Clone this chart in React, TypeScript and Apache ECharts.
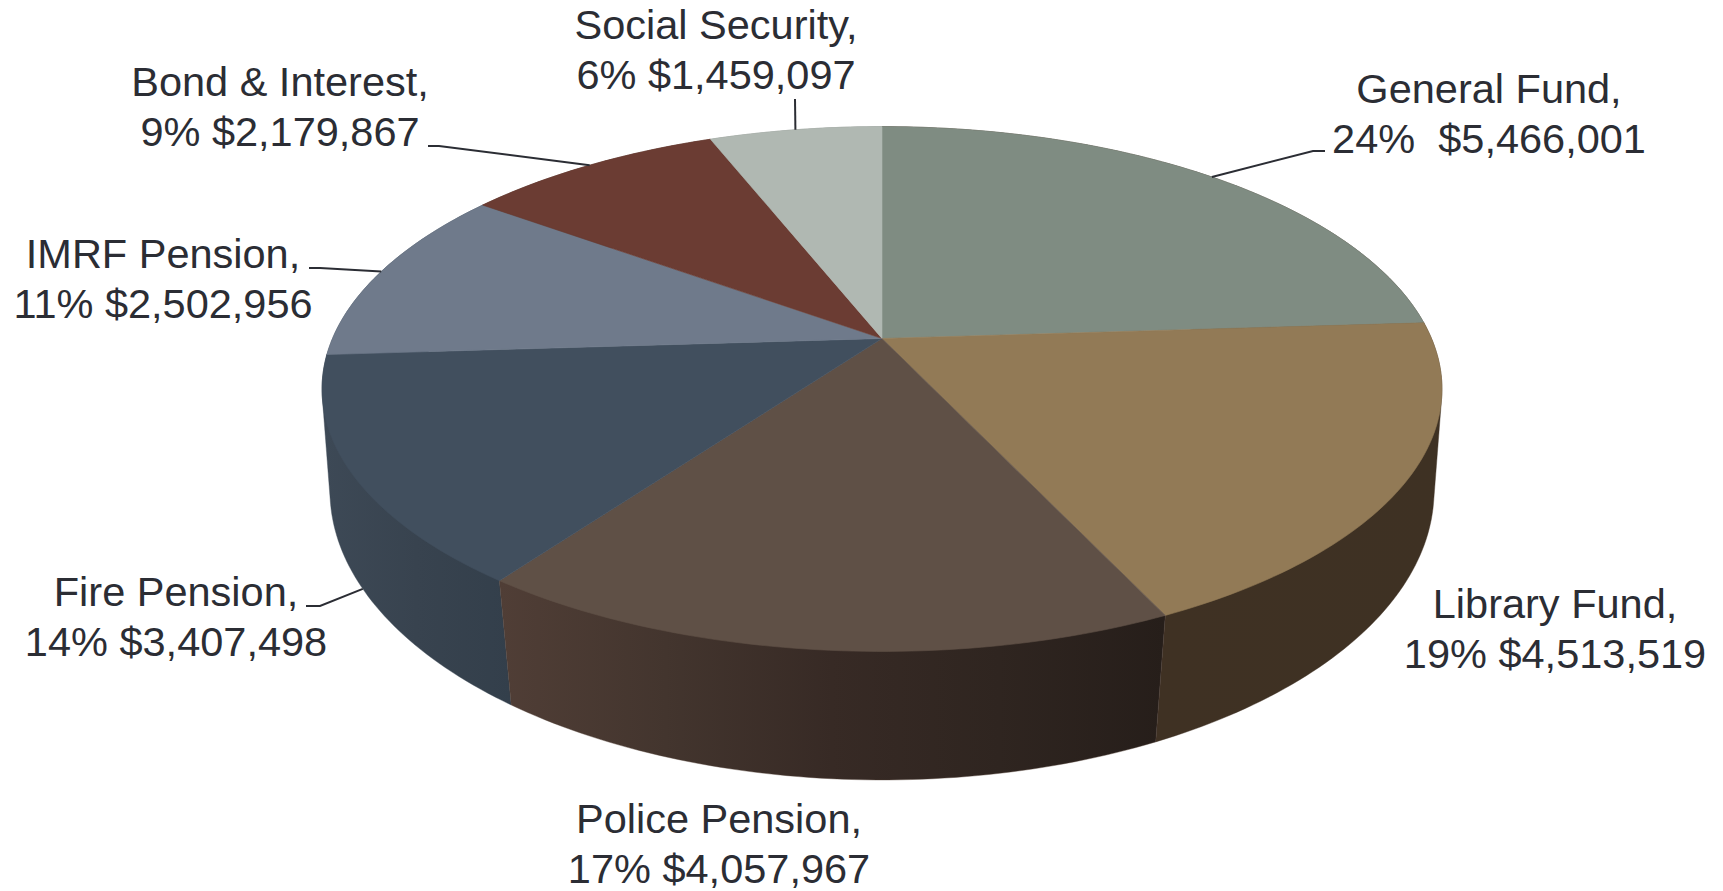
import { useEffect, useRef } from "react";
import * as echarts from "echarts";

// Fund shares and amounts, clockwise from twelve o'clock.
const funds = ["General Fund", "Library Fund", "Police Pension", "Fire Pension", "IMRF Pension", "Bond & Interest", "Social Security"];
const shares = [24, 19, 17, 14, 11, 9, 6];
const amounts = ["$5,466,001", "$4,513,519", "$4,057,967", "$3,407,498", "$2,502,956", "$2,179,867", "$1,459,097"];
const shareGaps = ["  ", " ", " ", " ", " ", " ", " "];

const topColors = ["#7f8c82", "#927a56", "#5f5046", "#414f5e", "#6f7a8b", "#6b3c33", "#b0b8b2"];
const wallStops = [
  ["#3e3123", "#3e3123"],
  ["#3f3123", "#3e3123"],
  ["#503e36", "#43352e", "#372a25", "#2f2520", "#261e1a"],
  ["#3d4956", "#38434f", "#333f4b"],
  ["#3d4956", "#38434f"],
  ["#4a2a24", "#4a2a24"],
  ["#7c827e", "#7c827e"],
];

// Projection of the disc: the near edge is drawn larger than the far edge.
const topRim = { cx: 882, cy: 338.5, rx: 549.5, ry: 252.7, k: 0.1925 };
const baseRim = { cx: 882, cy: 441.4, rx: 544, ry: 281, k: 0.17 };

// Label placement: centre of each two-line block.
const labelCentres = [
  [1489, 113], [1555, 628], [719, 843], [176, 616], [163, 278], [280, 106], [716, 49],
];
// Leader lines: where the line leaves the text, then its bend. Library and Police have none.
const leaderStarts = [[1325, 151], null, null, [306, 606], [309, 268], [428, 146], [795, 99]];
const leaderBends = [[1313, 151], null, null, [320, 606], [320, 268], [439, 146], [795, 99]];
const leaderOnBase = [false, false, false, true, false, false, false];

const startShare = (i: number) => shares.slice(0, i).reduce((a, b) => a + b, 0);
const toAngle = (share: number) => (share / 100) * Math.PI * 2;

function project(rim: typeof topRim, angle: number) {
  const w = 1 + rim.k * Math.cos(angle);
  return [rim.cx + (rim.rx * Math.sin(angle)) / w, rim.cy - (rim.ry * Math.cos(angle)) / w];
}

function arc(rim: typeof topRim, from: number, to: number) {
  const steps = Math.max(2, Math.ceil(Math.abs(to - from) / (Math.PI / 180)));
  const pts: number[][] = [];
  for (let s = 0; s <= steps; s++) pts.push(project(rim, from + ((to - from) * s) / steps));
  return pts;
}

// The side of the drum is the convex outline of its two rims, so its silhouette
// runs straight from one rim to the other. The top faces cover whatever lies above the rim.
function convexHull(points: number[][]) {
  const sorted = [...points].sort((a, b) => a[0] - b[0] || a[1] - b[1]);
  const cross = (o: number[], a: number[], b: number[]) =>
    (a[0] - o[0]) * (b[1] - o[1]) - (a[1] - o[1]) * (b[0] - o[0]);
  const chain = (list: number[][]) => {
    const out: number[][] = [];
    for (const p of list) {
      while (out.length >= 2 && cross(out[out.length - 2], out[out.length - 1], p) <= 0) out.pop();
      out.push(p);
    }
    out.pop();
    return out;
  };
  return [...chain(sorted), ...chain([...sorted].reverse())];
}

function renderWall(params: any, api: any) {
  const i = params.dataIndex;
  const from = toAngle(startShare(i));
  const to = from + toAngle(api.value(0));
  const mid = (from + to) / 2;
  const stops = wallStops[i].map((color, n, all) => ({ offset: n / (all.length - 1), color }));
  const fill = new echarts.graphic.LinearGradient(0, 0, 1, 0, stops);
  return {
    type: "polygon",
    z2: Math.round(100 - Math.cos(mid) * 100),
    shape: { points: convexHull([...arc(topRim, from, to), ...arc(baseRim, to, from)]) },
    style: { fill, stroke: wallStops[i][0], lineWidth: 0.4 },
  };
}

function renderTop(params: any, api: any) {
  const i = params.dataIndex;
  const from = toAngle(startShare(i));
  const to = from + toAngle(api.value(0));
  return {
    type: "polygon",
    shape: { points: [[topRim.cx, topRim.cy], ...arc(topRim, from, to)] },
    style: { fill: topColors[i], stroke: topColors[i], lineWidth: 0.6 },
  };
}

function renderLabel(params: any, api: any) {
  const i = params.dataIndex;
  const value = api.value(0);
  const children: any[] = [
    {
      type: "text",
      x: labelCentres[i][0],
      y: labelCentres[i][1],
      style: {
        text: `${funds[i]},\n${value}%${shareGaps[i]}${amounts[i]}`,
        fontFamily: "Liberation Sans",
        fontSize: 41.5,
        lineHeight: 50,
        fill: "#2b2d34",
        align: "center",
        verticalAlign: "middle",
      },
    },
  ];
  const start = leaderStarts[i];
  const bend = leaderBends[i];
  if (start && bend) {
    const anchor = project(leaderOnBase[i] ? baseRim : topRim, toAngle(startShare(i) + value / 2));
    children.push({
      type: "polyline",
      shape: { points: [start, bend, anchor] },
      style: { fill: "none", stroke: "#2b2d34", lineWidth: 2 },
    });
  }
  return { type: "group", children };
}

export default function App() {
  const ref = useRef<HTMLDivElement>(null);
  useEffect(() => {
    const chart = echarts.init(ref.current, undefined, { renderer: "svg" });
    const data = shares.map((s, i) => [s, i]);
    const base = { type: "custom", coordinateSystem: "none", silent: true, data };
    chart.setOption({
      animation: false,
      backgroundColor: "#ffffff",
      series: [
        { ...base, name: "Side", z: 1, renderItem: renderWall },
        { ...base, name: "Top", z: 2, renderItem: renderTop },
        { ...base, name: "Labels", z: 3, renderItem: renderLabel },
      ],
    });
    return () => chart.dispose();
  }, []);
  return <div ref={ref} style={{ position: "fixed", left: 0, top: 0, width: 1723, height: 891 }} />;
}
